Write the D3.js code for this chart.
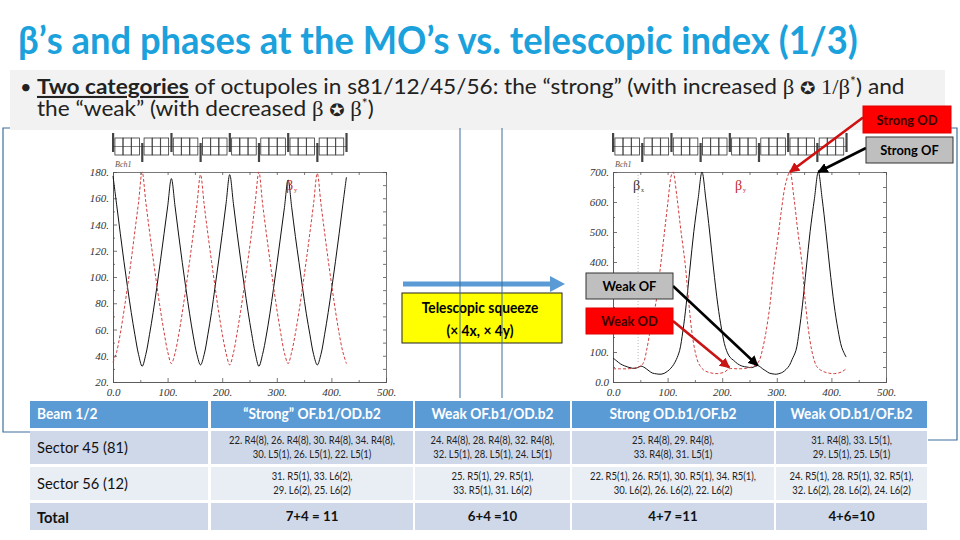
<!DOCTYPE html>
<html>
<head>
<meta charset="utf-8">
<script src="https://cdn.jsdelivr.net/npm/d3@7"></script>
<style>
  body { margin: 0; background: #fff; }
  svg { display: block; }
</style>
</head>
<body>
<svg id="slide" width="960" height="540"></svg>
<script>
// ---- values ----
const titleText = "β’s and phases at the MO’s vs. telescopic index (1/3)";

// left panel: nominal optics, 4 FODO cells
const leftS = [0, 6.7, 13.4, 20.0, 26.7, 33.4, 40.1, 46.8, 53.4, 60.1, 66.8, 73.5, 80.2, 86.8, 93.5, 100.2,
  106.9, 113.6, 120.3, 126.9, 133.6, 140.3, 147.0, 153.7, 160.3, 167.0, 173.7, 180.4, 187.1, 193.7, 200.4, 207.1,
  213.8, 220.5, 227.1, 233.8, 240.5, 247.2, 253.9, 260.5, 267.2, 273.9, 280.6, 287.3, 293.9, 300.6, 307.3, 314.0,
  320.7, 327.3, 334.0, 340.7, 347.4, 354.1, 360.7, 367.4, 374.1, 380.8, 387.5, 394.1, 400.8, 407.5, 414.2, 420.9, 427.5];
const leftBetaX = [177, 155, 133, 112, 92, 73, 56, 41, 32, 41, 56, 73, 92, 112, 133, 154,
  175, 154, 132, 111, 91, 72, 55, 41, 33, 41, 56, 73, 93, 113, 134, 156,
  178, 156, 134, 113, 93, 74, 57, 42, 32, 41, 55, 72, 91, 111, 132, 153,
  174, 153, 131, 111, 91, 72, 56, 41, 33, 41, 56, 73, 92, 112, 133, 155, 176];
const leftBetaY = [35, 43, 57, 74, 93, 113, 135, 157, 180, 157, 135, 114, 94, 75, 58, 43,
  34, 42, 56, 73, 92, 112, 133, 155, 178, 155, 133, 112, 92, 73, 56, 42,
  33, 42, 57, 74, 93, 113, 134, 157, 180, 156, 134, 113, 93, 74, 57, 42,
  34, 43, 57, 74, 93, 113, 134, 156, 179, 156, 134, 113, 93, 74, 57, 43, 34];

// right panel: telescopic squeeze (x4, x4)
const rightXs = [0, 7, 14, 21, 27, 33, 39, 45, 51, 56, 61, 66, 72, 80, 88, 95, 100, 106, 111, 116, 122, 128, 134,
  141, 148, 156, 163, 170, 177, 184, 192, 199, 206, 214, 221, 228, 235, 241, 248, 254, 259, 265, 270, 274, 280,
  286, 293, 299, 306, 311, 317, 323, 328, 335, 341, 347, 354, 361, 369, 376, 383, 390, 397, 405, 412, 419, 427];
const rightBetaX = [80, 70, 60, 54, 50, 47, 45, 48, 53, 50, 44, 37, 30, 27, 26, 30, 36, 46, 58, 75, 105, 170, 257,
  380, 501, 612, 700, 610, 500, 380, 257, 175, 115, 83, 72, 61, 54, 51, 49, 48, 51, 55, 50, 44, 37,
  30, 27, 26, 29, 33, 42, 55, 75, 105, 170, 257, 380, 501, 612, 700, 612, 501, 380, 257, 175, 115, 83];
const rightYs = [0, 14, 27, 40, 50, 56, 62, 68, 74, 80, 86, 93, 100, 107, 110, 117, 124, 132, 137, 144, 150, 155,
  159, 166, 174, 183, 192, 204, 213, 228, 241, 254, 262, 268, 274, 280, 287, 294, 302, 309, 316, 324, 331, 338,
  346, 351, 358, 364, 369, 373, 380, 388, 397, 406, 418, 427];
const rightBetaY = [44, 44, 44, 47, 52, 65, 110, 170, 220, 280, 370, 480, 590, 690, 700, 618, 510, 396, 300, 173, 105, 70,
  55, 40, 33, 29, 28, 33, 44, 44, 45, 50, 58, 72, 110, 165, 250, 370, 480, 580, 660, 700, 620, 510,
  396, 290, 173, 105, 70, 52, 40, 33, 29, 28, 33, 44];

// lattice (quadrupoles and dipoles along the 4 cells)
const quadS = [0, 53.4, 106.9, 160.3, 213.8, 267.2, 320.7, 374.1, 427.5];
const quadFocusing = [true, false, true, false, true, false, true, false, true];
const dipoleS = [3.5, 18.7, 33.9, 56.9, 72.1, 87.3, 110.4, 125.6, 140.8, 163.8, 179.0, 194.2,
  217.3, 232.5, 247.7, 270.7, 285.9, 301.1, 324.2, 339.4, 354.6, 377.6, 392.8, 408.0];
const dipoleLen = 14.6;

const xTicks = [0, 100, 200, 300, 400, 500];
const xMinor = [50, 150, 250, 350, 450];
const leftYTicks = [20, 40, 60, 80, 100, 120, 140, 160, 180];
const leftYMinor = [30, 50, 70, 90, 110, 130, 150, 170];
const rightYTicks = [0, 100, 200, 300, 400, 500, 600, 700];
const rightYMinor = [50, 150, 250, 350, 450, 550, 650];
const rightHiddenLabels = [200, 300]; // covered by the Weak OF / Weak OD boxes

// annotations: text, colour, which curve, s and beta they point at
const notes = [
  { text: "Strong OD", fill: "#ff0000", color: "#3a0000", s: 324, beta: 700, line: "#d01010", box: [863, 106, 88, 27] },
  { text: "Strong OF", fill: "#bfbfbf", color: "#000", s: 376, beta: 700, line: "#000", box: [866, 137, 87, 26] },
  { text: "Weak OF", fill: "#bfbfbf", color: "#000", s: 265, beta: 55, line: "#000", box: [586, 273, 87, 26] },
  { text: "Weak OD", fill: "#ff0000", color: "#3a0000", s: 213, beta: 48, line: "#c81414", box: [586, 308, 87, 26] }
];

// table
const tableHeader = ["Beam 1/2", "“Strong” OF.b1/OD.b2", "Weak OF.b1/OD.b2", "Strong OD.b1/OF.b2", "Weak OD.b1/OF.b2"];
const rowLabels = ["Sector 45 (81)", "Sector 56 (12)", "Total"];
const sector45 = [
  ["22. R4(8), 26. R4(8), 30. R4(8), 34. R4(8),", "30. L5(1), 26. L5(1), 22. L5(1)"],
  ["24. R4(8), 28. R4(8), 32. R4(8),", "32. L5(1), 28. L5(1), 24. L5(1)"],
  ["25. R4(8), 29. R4(8),", "33. R4(8), 31. L5(1)"],
  ["31. R4(8), 33. L5(1),", "29. L5(1), 25. L5(1)"]
];
const sector56 = [
  ["31. R5(1), 33. L6(2),", "29. L6(2), 25. L6(2)"],
  ["25. R5(1), 29. R5(1),", "33. R5(1), 31. L6(2)"],
  ["22. R5(1), 26. R5(1), 30. R5(1), 34. R5(1),", "30. L6(2), 26. L6(2), 22. L6(2)"],
  ["24. R5(1), 28. R5(1), 32. R5(1),", "32. L6(2), 28. L6(2), 24. L6(2)"]
];
const totals = ["7+4 = 11", "6+4 =10", "4+7 =11", "4+6=10"];

// ---- drawing ----
const svg = d3.select("#slide");
const SANS = "Lato, 'Open Sans', sans-serif";
const SERIF = "'Liberation Serif', 'DejaVu Serif', serif";
const frameBlue = "#3f6f9c";

// text placed at origin then squeezed horizontally (Calibri is narrow)
function label(g, str, x, y, o) {
  o = o || {};
  const t = g.append("text")
    .attr("x", 0).attr("y", 0)
    .attr("font-family", o.family || SANS)
    .attr("font-size", o.size || 12)
    .attr("font-weight", o.weight || "normal")
    .attr("font-style", o.style || "normal")
    .attr("fill", o.fill || "#000")
    .attr("text-anchor", o.anchor || "start")
    .text(str);
  const len = t.node().getComputedTextLength();
  let k = o.width ? o.width / len : (o.squeeze || 1);
  if (o.maxWidth && len * k > o.maxWidth) k = o.maxWidth / len;
  t.attr("transform", "translate(" + x + "," + y + ") scale(" + k + ",1)");
  return t;
}

// frame lines behind everything
const frame = svg.append("g").attr("stroke", frameBlue).attr("stroke-width", 1.2).attr("fill", "none");
frame.append("path").attr("d", "M30,432 H3 V128 H957 V440 H928");

// title
label(svg, titleText, 18, 54, { size: 38, weight: "bold", fill: "#1ba1dc", width: 840 });

// bullet box
svg.append("rect").attr("x", 10).attr("y", 70).attr("width", 935).attr("height", 60).attr("fill", "#f2f2f2");
svg.append("text").attr("x", 20).attr("y", 94).attr("font-family", SANS).attr("font-size", 20).attr("fill", "#222").text("•");

const l1 = svg.append("text").attr("font-family", SANS).attr("font-size", 21).attr("fill", "#222");
l1.append("tspan").attr("font-weight", "bold").attr("text-decoration", "underline").text("Two categories");
l1.append("tspan").text(" of octupoles in s81/12/45/56: the “strong” (with increased ");
l1.append("tspan").attr("font-family", SERIF).text("β ");
l1.append("tspan").attr("font-family", "'DejaVu Sans'").attr("font-size", 17).text("✪");
l1.append("tspan").attr("font-family", SERIF).text(" 1/β");
l1.append("tspan").attr("font-size", 13).attr("baseline-shift", "super").text("*");
l1.append("tspan").text(") and");
const k1 = 868 / l1.node().getComputedTextLength();
l1.attr("transform", "translate(37,94) scale(" + k1 + ",1)");

const l2 = svg.append("text").attr("font-family", SANS).attr("font-size", 21).attr("fill", "#222");
l2.append("tspan").text("the “weak” (with decreased ");
l2.append("tspan").attr("font-family", SERIF).text("β ");
l2.append("tspan").attr("font-family", "'DejaVu Sans'").attr("font-size", 17).text("✪");
l2.append("tspan").attr("font-family", SERIF).text(" β");
l2.append("tspan").attr("font-size", 13).attr("baseline-shift", "super").text("*");
l2.append("tspan").text(")");
l2.attr("transform", "translate(37,116) scale(" + k1 + ",1)");

// optics panels
function panel(x0, yDomain, yTicks, yMinor, curves, yFmt) {
  const x = d3.scaleLinear().domain([0, 500]).range([x0, x0 + 273]);
  const y = d3.scaleLinear().domain(yDomain).range([382, 172]);
  const g = svg.append("g");
  g.append("rect").attr("x", x(0)).attr("y", 172).attr("width", 273).attr("height", 210).attr("fill", "#fff");

  // lattice strip
  const strip = g.append("g");
  strip.selectAll("rect.dip").data(dipoleS).join("rect").attr("class", "dip")
    .attr("x", d => x(d)).attr("y", 138).attr("width", d => x(d + dipoleLen) - x(d)).attr("height", 17)
    .attr("fill", "#fff").attr("stroke", "#333").attr("stroke-width", 0.8);
  strip.selectAll("rect.quad").data(quadS).join("rect").attr("class", "quad")
    .attr("x", d => x(d) - 1).attr("width", 2.2)
    .attr("y", (d, i) => quadFocusing[i] ? 133 : 143).attr("height", 19)
    .attr("fill", "#444");
  strip.append("line").attr("x1", x(0)).attr("x2", x(427.5)).attr("y1", 146.5).attr("y2", 146.5)
    .attr("stroke", "#333").attr("stroke-width", 0.6);

  // axes, ticks inward on all sides
  const tickStyle = a => a.selectAll("text").attr("font-family", SERIF).attr("font-style", "italic")
    .attr("font-size", 11).attr("fill", "#333");
  const xFmt = d => d === 0 ? "0.0" : d + ".";
  const bottom = g.append("g").attr("transform", "translate(0,382)")
    .call(d3.axisBottom(x).tickValues(xTicks).tickSize(-4).tickPadding(6).tickFormat(xFmt));
  tickStyle(bottom);
  g.append("g").attr("transform", "translate(0,382)")
    .call(d3.axisBottom(x).tickValues(xMinor).tickSize(-2).tickFormat(""));
  g.append("g").attr("transform", "translate(0,172)")
    .call(d3.axisTop(x).tickValues(xTicks.concat(xMinor)).tickSize(-3).tickFormat(""));
  const left = g.append("g").attr("class", "yaxis").attr("transform", "translate(" + x(0) + ",0)")
    .call(d3.axisLeft(y).tickValues(yTicks).tickSize(-4).tickPadding(4).tickFormat(yFmt));
  tickStyle(left);
  g.append("g").attr("transform", "translate(" + x(0) + ",0)")
    .call(d3.axisLeft(y).tickValues(yMinor).tickSize(-2).tickFormat(""));
  g.append("g").attr("transform", "translate(" + x(500) + ",0)")
    .call(d3.axisRight(y).tickValues(yTicks.concat(yMinor)).tickSize(-3).tickFormat(""));
  g.selectAll(".domain").attr("stroke", "#555").attr("stroke-width", 0.8);
  g.selectAll(".tick line").attr("stroke", "#555").attr("stroke-width", 0.8);

  label(g, "Bch1", x(0) + 2, 167, { family: SERIF, style: "italic", size: 8, fill: "#555" });

  curves.forEach(c => {
    const pts = c.s.map((s, i) => [x(s), y(c.b[i])]);
    g.append("path").attr("d", d3.line().curve(d3.curveCatmullRom)(pts))
      .attr("fill", "none").attr("stroke", c.color).attr("stroke-width", c.width)
      .attr("stroke-dasharray", c.dash || null);
  });
  return { x, y, g };
}

const L = panel(113, [20, 180], leftYTicks, leftYMinor, [
  { s: leftS, b: leftBetaX, color: "#111", width: 1 },
  { s: leftS, b: leftBetaY, color: "#d23c3c", width: 1, dash: "3,2" }
], d => d + ".");
label(L.g, "β", 286, 190, { family: SERIF, size: 14, fill: "#c0282d" });
label(L.g, "y", 294, 192, { family: SERIF, size: 6, fill: "#c0282d" });

const R = panel(613, [0, 700], rightYTicks, rightYMinor, [
  { s: rightXs, b: rightBetaX, color: "#111", width: 1 },
  { s: rightYs, b: rightBetaY, color: "#d23c3c", width: 1, dash: "3,2" }
], d => d === 0 ? "0.0" : d + ".");
R.g.select(".yaxis").selectAll(".tick text").filter(d => rightHiddenLabels.includes(d)).remove();
R.g.append("line").attr("x1", R.x(46)).attr("x2", R.x(46)).attr("y1", R.y(690)).attr("y2", R.y(62))
  .attr("stroke", "#999").attr("stroke-width", 0.7).attr("stroke-dasharray", "1,2");
label(R.g, "β", 633, 190, { family: SERIF, size: 14, fill: "#333" });
label(R.g, "x", 641, 192, { family: SERIF, size: 6, fill: "#333" });
label(R.g, "β", 735, 190, { family: SERIF, size: 14, fill: "#c0282d" });
label(R.g, "y", 743, 192, { family: SERIF, size: 6, fill: "#c0282d" });

// telescopic squeeze arrow + yellow box
svg.append("line").attr("x1", 403).attr("x2", 553).attr("y1", 284).attr("y2", 284)
  .attr("stroke", "#5b9bd5").attr("stroke-width", 5);
svg.append("path").attr("d", "M550,276 L565,284 L550,292 Z").attr("fill", "#5b9bd5");
svg.append("rect").attr("x", 402).attr("y", 293).attr("width", 160).attr("height", 50)
  .attr("fill", "#ffff00").attr("stroke", "#222").attr("stroke-width", 1);
label(svg, "Telescopic squeeze", 480, 313, { anchor: "middle", size: 15, weight: "bold", squeeze: 0.92 });
label(svg, "(× 4x, × 4y)", 480, 336, { anchor: "middle", size: 15, weight: "bold", squeeze: 0.92 });

// blue vertical guides drawn over the box
svg.append("path").attr("d", "M460,128 V398 M502,128 V398")
  .attr("stroke", frameBlue).attr("stroke-width", 1).attr("fill", "none");

// annotation boxes with arrows to the optics points
const defs = svg.append("defs");
notes.forEach((n, i) => {
  defs.append("marker").attr("id", "ah" + i).attr("viewBox", "0 0 10 10").attr("refX", 9).attr("refY", 5)
    .attr("markerWidth", 4).attr("markerHeight", 4).attr("orient", "auto")
    .append("path").attr("d", "M0,0 L10,5 L0,10 Z").attr("fill", n.line);
});
notes.forEach((n, i) => {
  const [bx, by, bw, bh] = n.box;
  const tx = R.x(n.s), ty = R.y(n.beta);
  const fromRight = tx > bx + bw;
  svg.append("line")
    .attr("x1", fromRight ? bx + bw : bx).attr("y1", by + bh / 2 + (n.beta > 600 ? -2 : 0))
    .attr("x2", tx).attr("y2", ty)
    .attr("stroke", n.line).attr("stroke-width", 2.6).attr("marker-end", "url(#ah" + i + ")");
  svg.append("rect").attr("x", bx).attr("y", by).attr("width", bw).attr("height", bh)
    .attr("fill", n.fill).attr("stroke", n.fill === "#ff0000" ? "#e00000" : "#333").attr("stroke-width", 1);
  label(svg, n.text, bx + bw / 2, by + bh / 2 + 5, { anchor: "middle", size: 14, weight: "bold", fill: n.color, squeeze: 0.92 });
});

// table
const colX = [30, 211, 415, 572, 776];
const colW = [178, 202, 155, 202, 151];
const rowY = [401, 431, 467, 503];
const rowH = [27, 33, 33, 27];
const rowFill = ["#5b9bd5", "#cfd8e9", "#e9edf4", "#cfd8e9"];
const tbl = svg.append("g");
rowY.forEach((ry, r) => {
  colX.forEach((cx, c) => {
    tbl.append("rect").attr("x", cx).attr("y", ry).attr("width", colW[c]).attr("height", rowH[r]).attr("fill", rowFill[r]);
  });
});
tableHeader.forEach((h, c) => {
  if (c === 0) label(tbl, h, colX[0] + 7, 419, { size: 14.5, weight: "bold", fill: "#fff", squeeze: 0.95 });
  else label(tbl, h, colX[c] + colW[c] / 2, 419, { anchor: "middle", size: 14.5, weight: "bold", fill: "#fff", squeeze: 0.95 });
});
rowLabels.forEach((t, r) => {
  label(tbl, t, colX[0] + 7, rowY[r + 1] + (r === 2 ? 20 : 22),
    { size: 15.5, weight: r === 2 ? "bold" : "normal", fill: "#111", squeeze: 0.95 });
});
[sector45, sector56].forEach((rows, r) => {
  rows.forEach((lines, c) => {
    const cx = colX[c + 1] + colW[c + 1] / 2;
    lines.forEach((ln, j) => {
      label(tbl, ln, cx, rowY[r + 1] + 13 + j * 14,
        { anchor: "middle", size: 11, fill: "#222", squeeze: 0.86, maxWidth: colW[c + 1] - 12 });
    });
  });
});
totals.forEach((t, c) => {
  label(tbl, t, colX[c + 1] + colW[c + 1] / 2, 521, { anchor: "middle", size: 14, weight: "bold", fill: "#111", squeeze: 0.95 });
});
</script>
</body>
</html>
